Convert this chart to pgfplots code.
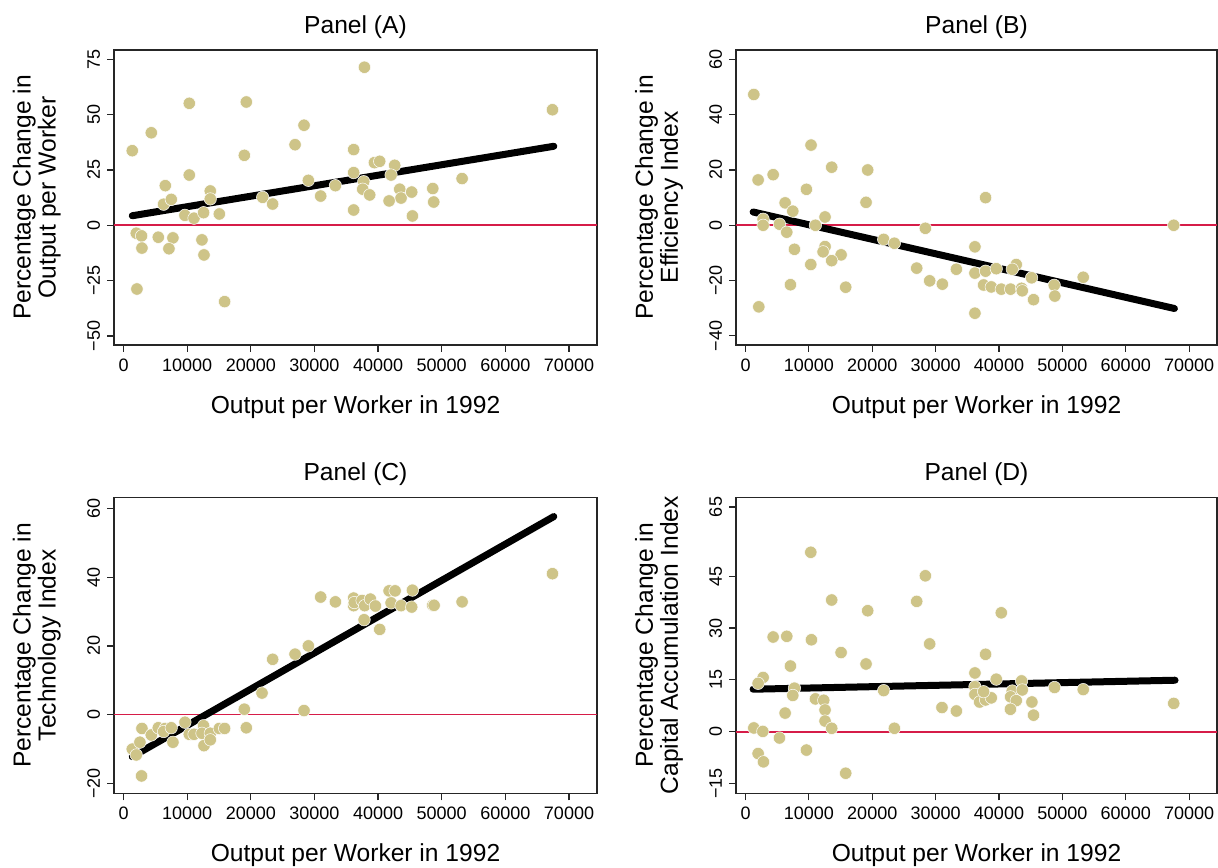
\documentclass[border=0pt]{standalone}
\usepackage{pgfplots}
\pgfplotsset{compat=1.18}
\usepackage{fontspec}
\setmainfont{Liberation Sans}
\definecolor{sand}{RGB}{206,196,136}
\definecolor{zerocol}{RGB}{214,28,72}
\pgfplotsset{
  panel/.style={
    scale only axis, width=241bp, height=148bp,
    xmin=-1500, xmax=74400,
    scaled x ticks=false, scaled y ticks=false,
    xtick={0,10000,20000,30000,40000,50000,60000,70000},
    xticklabels={0,10000,20000,30000,40000,50000,60000,70000},
    tick align=outside, tick pos=left,
    major tick length=3.5bp,
    tick style={black!85, line width=0.6bp},
    axis line style={black!85, line width=0.75bp},
    ticklabel style={font=\fontsize{9bp}{9bp}\selectfont},
    yticklabel style={rotate=90, anchor=south},
    label style={font=\fontsize{12.3bp}{10.9bp}\selectfont},
    title style={font=\fontsize{12.3bp}{12.3bp}\selectfont, at={(axis description cs:0.5,1.037)}, anchor=center},
    xlabel style={at={(axis description cs:0.5,-0.21)}, anchor=center},
    ylabel style={at={(axis description cs:-0.16,0.5)}, anchor=center, align=center},
    xlabel={Output per Worker in 1992},
  },
  dots/.style={only marks, mark=*, mark size=3.1bp, mark options={fill=sand, draw=white, line width=0.25bp}},
  fitline/.style={black, line width=3.5bp, line cap=round, no marks},
  zeroline/.style={color=zerocol, line width=0.8bp, no marks},
}
\begin{document}
\begin{tikzpicture}
\useasboundingbox (0,0) rectangle (609bp,434bp);
% Panel A
\begin{axis}[panel, at={(57bp,261.5bp)}, anchor=south west, width=241.5bp, height=147.5bp,
  ymin=-54.1, ymax=79.2, ytick={-50,-25,0,25,50,75},
  yticklabels={−50,−25,0,25,50,75},
  title={Panel (A)}, ylabel={Percentage Change in\\Output per Worker}]
\addplot[zeroline] coordinates {(-1500,0) (74400,0)};
\addplot[dots] coordinates {(1370,33.7)(10330,55.1)(4360,41.8)(19290,55.7)(37850,71.4)(67400,52.2)(28360,45.2)(26950,36.4)(18980,31.6)(36160,34.2)(39420,28.3)(40250,28.9)(42610,27.1)(10330,22.7)(6560,17.9)(6290,9.5)(7500,11.7)(9650,4.5)(11070,3.2)(12580,5.7)(13630,15.5)(13630,11.9)(15050,5.1)(21860,12.6)(23430,9.6)(29040,20.3)(30980,13.2)(33290,17.9)(36160,23.8)(37740,19.7)(37580,16.3)(38680,13.7)(36160,6.9)(42040,22.7)(43400,16.3)(43610,12.3)(41730,11.0)(45280,15.0)(45390,4.2)(48590,16.6)(48740,10.5)(53200,21.1)(2000,-3.6)(2830,-4.8)(2890,-10.3)(5460,-5.4)(7760,-5.7)(7130,-10.6)(12320,-6.6)(12640,-13.4)(2100,-28.8)(15880,-34.5)};
\addplot[fitline] coordinates {(1370,4.3)(67610,35.7)};
\end{axis}
% Panel B
\begin{axis}[panel, at={(368bp,261.5bp)}, anchor=south west, width=240.5bp, height=147.5bp,
  ymin=-43.3, ymax=63.4, ytick={-40,-20,0,20,40,60},
  yticklabels={−40,−20,0,20,40,60},
  title={Panel (B)}, ylabel={Percentage Change in\\Efficiency Index}]
\addplot[zeroline] coordinates {(-1500,0) (74400,0)};
\addplot[dots] coordinates {(1310,47.3)(10340,29.0)(1990,16.4)(4360,18.3)(13600,21.0)(19280,20.0)(9610,13.0)(19020,8.3)(6250,8.1)(7460,5.1)(12550,3.0)(37880,10.0)(2780,2.2)(2780,0)(5360,0.4)(11030,0)(6510,-2.5)(67570,0)(28380,-1.1)(7720,-8.7)(12550,-7.7)(12240,-9.6)(15080,-10.7)(13600,-12.8)(10300,-14.2)(7090,-21.5)(15810,-22.4)(2100,-29.5)(21800,-5.1)(23490,-6.5)(27010,-15.5)(29060,-20.1)(31060,-21.3)(33270,-15.9)(36200,-7.8)(36200,-17.3)(37880,-16.6)(39570,-15.7)(37570,-21.6)(38780,-22.3)(40360,-23.1)(41830,-23.1)(42720,-14.2)(42090,-15.9)(43560,-22.8)(43670,-23.7)(45140,-19.0)(45450,-26.9)(36200,-31.8)(48710,-21.7)(48810,-25.6)(53290,-18.8)};
\addplot[fitline] coordinates {(1200,4.8)(67680,-30.1)};
\end{axis}
% Panel C
\begin{axis}[panel, at={(57bp,37.35bp)}, anchor=south west, width=241.5bp, height=148bp,
  ymin=-22.85, ymax=63.2, ytick={-20,0,20,40,60},
  yticklabels={−20,0,20,40,60},
  title={Panel (C)}, ylabel={Percentage Change in\\Technology Index}]
\addplot[zeroline] coordinates {(-1500,0) (74400,0)};
\addplot[dots] coordinates {(67400,41.0)(30980,34.2)(33290,32.8)(36160,33.9)(36160,31.7)(36260,32.6)(37480,33.2)(37890,31.7)(38790,33.6)(39580,31.6)(41730,36.0)(42670,36.0)(42040,32.5)(43610,31.7)(45390,36.2)(45280,31.3)(48590,31.8)(48800,31.8)(53200,32.8)(37800,27.6)(40250,24.8)(29040,20.0)(26950,17.6)(23430,16.1)(21760,6.3)(18980,1.6)(28360,1.2)(19290,-3.8)(1370,-10.0)(2000,-11.7)(2570,-8.0)(2830,-17.8)(2890,-4.0)(4360,-5.9)(5460,-3.8)(6560,-4.0)(6290,-4.9)(7500,-3.8)(7760,-8.0)(9650,-2.2)(10330,-5.7)(11070,-5.7)(12580,-3.2)(12320,-5.4)(12640,-9.0)(13630,-5.4)(13630,-7.3)(15050,-4.0)(15880,-4.0)};
\addplot[fitline] coordinates {(1370,-12.2)(67610,57.6)};
\end{axis}
% Panel D
\begin{axis}[panel, at={(368bp,37.35bp)}, anchor=south west, width=240.5bp, height=148bp,
  ymin=-17.8, ymax=67.8, ytick={-15,0,15,30,45,65},
  yticklabels={−15,0,15,30,45,65},
  title={Panel (D)}, ylabel={Percentage Change in\\Capital Accumulation Index}]
\addplot[zeroline] coordinates {(-1500,0) (74400,0)};
\addplot[dots] coordinates {(10300,51.9)(28380,45.1)(13600,38.1)(27010,37.7)(19280,35.0)(40360,34.4)(4360,27.4)(6510,27.6)(10400,26.6)(29060,25.4)(15080,22.9)(37880,22.4)(19020,19.6)(7090,19.0)(36200,17.0)(2780,15.7)(1990,14.0)(39570,15.2)(43560,14.7)(7720,12.6)(7460,10.5)(21800,11.9)(36200,13.0)(36200,10.8)(36940,8.6)(37880,9.2)(38780,9.8)(37570,11.6)(42090,11.8)(41830,10.1)(42720,9.0)(43670,12.1)(45190,8.6)(45450,4.8)(41800,6.5)(48760,12.8)(53290,12.2)(67570,8.2)(11030,9.5)(12340,9.1)(12550,6.3)(6250,5.4)(12550,3.1)(13600,1.0)(31000,7.0)(33270,6.0)(1310,1.1)(2730,0.1)(23490,1.0)(5360,-1.8)(9610,-5.3)(1990,-6.3)(2830,-8.7)(15810,-12.0)};
\addplot[fitline] coordinates {(1200,12.3)(67780,14.9)};
\end{axis}
\end{tikzpicture}
\end{document}
